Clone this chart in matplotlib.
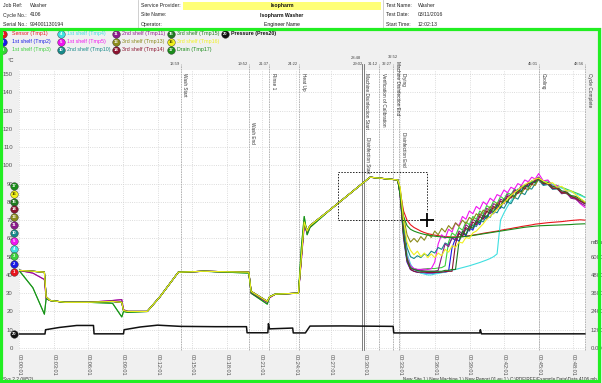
import matplotlib
matplotlib.use('Agg')
import matplotlib.pyplot as plt
from matplotlib.patches import Rectangle

plt.rcParams['font.family'] = ['Liberation Sans', 'DejaVu Sans']

W, H = 602, 383

# ---- header info ----
header_left = [('Job Ref:', 'Washer'), ('Cycle No.:', '4106'), ('Serial No.:', '994001130194')]
header_mid = [('Service Provider:', 'Isopharm'), ('Site Name:', 'Isopharm Washer'), ('Operator:', 'Engineer Name')]
header_right = [('Test Name:', 'Washer'), ('Test Date:', '03/11/2016'), ('Start Time:', '12:02:13')]

# ---- channels ----
ch_ids = [1, 2, 3, 4, 5, 10, 11, 13, 14, 15, 16, 17]
ch_names = ['Sensor (Tmp1)', '1st shelf (Tmp2)', '1st shelf (Tmp3)', '1st shelf (Tmp4)',
            '1st shelf (Tmp5)', '2nd shelf (Tmp10)', '2nd shelf (Tmp11)', '3rd shelf (Tmp13)',
            '3rd shelf (Tmp14)', '3rd shelf (Tmp15)', '3rd shelf (Tmp16)', 'Drain (Tmp17)']
ch_colors = ['#e8141c', '#1a1ae6', '#3ccf3c', '#3fdfe0', '#f014f0', '#178a8a', '#8b1a8b',
             '#8a8a1a', '#8b1430', '#1f7a1f', '#f0f01e', '#1a8c1a']
ch_early = ['main', 'main', 'dip', 'main', 'lag', 'main', 'lag', 'main', 'main', 'main', 'main', 'dip']

# first part of the cycle (minutes, degC) - three shapes shared by the probes
early_t = [0.0, 1.2, 2.2, 2.35, 2.7, 4.0, 6.0, 8.1, 8.9, 9.05, 9.4, 11.1, 12.2, 13.8, 16.0,
           19.9, 20.1, 21.5, 21.7, 22.2, 24.2, 24.45, 24.7, 24.95, 25.2, 27.0, 30.4, 32.8]
early_main = [42.5, 42, 41.5, 28, 26, 25, 25, 25.5, 25, 20.5, 20, 20, 28, 41.5, 42,
              41.5, 31, 25.5, 28, 29.5, 30, 50, 69, 64, 67, 76, 93.5, 92]
early_lag = [42.5, 41, 37.5, 27, 26, 25, 25, 26, 26.5, 21, 20, 20, 28, 41.5, 42,
             41.5, 30, 25, 27.5, 29.5, 30, 48, 67, 63, 66.5, 76, 93.5, 92]
early_dip = [42.5, 33, 18.5, 27, 26, 25, 25, 24.5, 17, 20, 19.5, 20, 28, 41.5, 42,
             41, 30, 24, 28, 29.5, 30, 55, 72, 62, 66, 76, 93.5, 92]
early = {'main': early_main, 'lag': early_lag, 'dip': early_dip}

# drying / cooling part
tail_t = [33.0, 33.3, 33.6, 33.9, 34.2, 34.5, 34.8, 35.1, 35.4, 35.7,
          36.0, 36.3, 36.6, 36.9, 37.2, 37.5, 37.8, 38.1, 38.4, 38.7,
          39.0, 39.3, 39.6, 39.9, 40.2, 40.5, 40.8, 41.1, 41.4, 41.7,
          42.0, 42.3, 42.6, 42.9, 43.2, 43.5, 43.8, 44.1, 44.4, 44.7,
          45.0, 45.4, 45.8, 46.2, 46.6, 47.0, 47.4, 47.8, 48.2, 48.6, 49.0]
tails = {
    1: [86, 75, 70, 67.5, 66, 65, 64, 63.2, 62.6, 62.2,
        61.8, 61.5, 61.2, 61, 60.9, 60.8, 60.8, 60.9, 61, 61.2,
        61.5, 61.8, 62.1, 62.4, 62.8, 63.1, 63.4, 63.7, 64, 64.4,
        64.8, 65.1, 65.4, 65.8, 66.1, 66.5, 66.8, 67.1, 67.4, 67.8,
        68, 68.3, 68.6, 68.8, 69, 69.2, 69.5, 69.8, 70, 70.2, 70],
    2: [84, 60, 47, 43, 42, 41.5, 41.2, 41, 41, 41,
        41, 41.2, 41.5, 41.5, 42, 55, 60, 58.5, 63, 61.5,
        66, 64.5, 69, 67.5, 72, 70.5, 75, 73.5, 78, 76.5,
        81, 79.5, 84, 82.5, 87, 86, 89.5, 88.5, 91.5, 91,
        93, 89.5, 90, 87, 87.5, 84.5, 85, 82.5, 82, 80.5, 79],
    3: [85, 62, 48, 44, 43.5, 43, 43, 43.2, 43.5, 43.5,
        43.5, 43.8, 44, 45, 58, 63, 61.5, 66, 64.5, 69,
        67.5, 72, 70.5, 75, 73.5, 78, 76.5, 80.5, 79, 83,
        81.5, 85, 84, 87, 86, 89, 88, 90.5, 90, 92,
        93.5, 91, 91.5, 89.5, 89, 88, 87, 86, 85, 84, 82.5],
    4: [86, 66, 52, 46, 43, 42, 41, 40.5, 40, 40,
        40.5, 40.8, 41.2, 41.6, 42, 42.5, 43, 43.5, 44, 44.5,
        45, 45.6, 46.2, 46.8, 47.5, 48.2, 49, 50, 51.5, 70,
        74, 77.5, 80.5, 83, 85, 87, 88.5, 90, 91, 92,
        92.5, 91, 90.5, 89.5, 88.5, 87.5, 86.5, 85.5, 84.5, 83.5, 82.5],
    5: [85, 65, 50, 45, 43.5, 43, 43, 43.2, 43, 43.4,
        47, 57, 62, 60, 65, 63.5, 68.5, 67, 72, 70.5,
        75, 73.5, 77.5, 76, 80, 78.5, 82, 80.5, 84, 83,
        86.5, 85, 88, 87, 90, 89, 92, 91, 93.5, 92.5,
        95.5, 91.5, 92, 88.5, 89, 85.5, 86, 82.5, 82, 79, 77],
    10: [87, 68, 55, 50, 49, 50.5, 49.5, 51.5, 50.5, 53,
         52, 55, 54, 57.5, 56.5, 60, 59, 62.5, 61.5, 65,
         64, 67.5, 66.5, 70, 69, 72.5, 71.5, 75, 74, 77.5,
         76.5, 80, 79, 82.5, 81.5, 85, 84, 87.5, 87, 90,
         92, 89, 89.5, 87, 87, 85, 84.5, 83, 82, 80.5, 79.5],
    11: [85, 62, 48, 43.5, 43, 42.5, 42.5, 42.2, 42, 42,
         42, 42.5, 50, 57, 55.5, 60.5, 59, 64, 62.5, 67.5,
         66, 70.5, 69, 73.5, 72, 76.5, 75, 79, 78, 81.5,
         80.5, 84, 83, 86.5, 85.5, 88.5, 88, 90.5, 90, 92,
         93.5, 90, 90.5, 87.5, 87.5, 84.5, 85, 82, 81.5, 79.5, 78],
    13: [88, 72, 62, 58, 60, 58, 61, 59, 62.5, 60.5,
         64, 62, 65.5, 63.5, 67, 65, 68.5, 66.5, 70, 68,
         71.5, 70, 73.5, 72, 75.5, 74, 77.5, 76, 79.5, 78,
         81.5, 80, 83.5, 82, 85.5, 84.5, 87.5, 86.5, 89.5, 89,
         92.5, 90, 90, 87.5, 87.5, 85, 85, 83, 82.5, 80.5, 79.5],
    14: [84, 62, 48, 43, 42, 41.5, 41.5, 41.5, 41.3, 41.3,
         41.3, 41.5, 41.5, 41.8, 42, 42, 57, 63, 61, 66,
         64.5, 69, 67.5, 72, 70.5, 75, 73.5, 77.5, 76, 80.5,
         79, 83, 82, 85.5, 84.5, 88, 87, 90, 89.5, 91.5,
         92.5, 90, 90, 87.5, 87.5, 85, 85, 83, 82, 80.5, 79],
    15: [85, 63, 49, 44, 43, 42.5, 42, 42, 42, 42,
         42, 42, 42, 42.5, 42.5, 43, 43, 58, 64, 62,
         67, 65.5, 70, 68.5, 73, 71.5, 76, 74.5, 78.5, 77,
         81.5, 80, 84, 83, 86.5, 85.5, 89, 88, 91, 90.5,
         93, 90.5, 90.5, 88.5, 88, 86, 85.5, 83.5, 83, 81.5, 80],
    16: [88, 70, 58, 53.5, 51, 53, 50, 52, 49.5, 51.5,
         49.5, 52, 50.5, 54, 52.5, 56, 55, 58, 57.5, 60.5,
         60, 63, 64, 66, 68, 70.5, 72, 74, 76, 78,
         79.5, 81.5, 83.5, 85, 86.5, 88, 89.5, 90.5, 91.5, 92.5,
         93, 91.5, 90, 90.5, 88, 88.5, 86, 86, 84, 82, 80],
    17: [84, 72, 67, 65, 64, 63.3, 62.7, 62.2, 61.8, 61.5,
         61.2, 61, 60.8, 60.6, 60.5, 60.5, 60.6, 60.7, 60.9, 61.1,
         61.3, 61.6, 61.9, 62.2, 62.5, 62.8, 63.1, 63.4, 63.7, 64,
         64.3, 64.6, 64.9, 65.2, 65.5, 65.8, 66.1, 66.3, 66.5, 66.7,
         66.9, 67, 67.1, 67.2, 67.3, 67.4, 67.5, 67.6, 67.8, 67.9, 68],
}

# pressure channel 20 (mBar)
p_t = [0, 2.25, 2.3, 3.5, 5.0, 6.45, 6.5, 9.05, 9.1, 10.5, 12.0, 14.0, 17.0, 19.7, 19.75,
       21.55, 21.6, 21.7, 21.8, 23.7, 23.75, 24.8, 25.2, 28.0, 32.4, 32.45, 39.9, 39.95, 40.05, 49.0]
p_v = [920, 920, 1200, 1350, 1480, 1480, 930, 930, 1200, 1380, 1500, 1420, 1400, 1400, 1000,
       1000, 1600, 1250, 1260, 1310, 990, 990, 1440, 1450, 1420, 990, 990, 1200, 930, 930]

# cycle events (minutes on the axis)
ev_t = [14.0, 19.89, 21.65, 24.24, 29.7, 29.85, 31.17, 32.38, 32.9, 45.02, 49.0]
ev_name = ['Wash Start', 'Wash End', 'Rinse 1', 'Heat Up', 'Machine Disinfection Start',
           'Disinfection Start', 'Verification of Calibration', 'Machine Disinfection End',
           'Drying', 'Cooling', 'Cycle Complete']
ev_clock = ['13:59', '19:52', '21:37', '24:22', '28:48', '29:02', '31:12', '32:27', '32:52', '45:01', '48:56']
ev_label_top = [150.5, 123.7, 150.5, 150.5, 150.5, 115.5, 150.5, 157.0, 150.5, 150.5, 150.5]
ev_second = {8: ('Disinfection End', 118.2)}

# channel tags at the left edge of the plot
tag_ids = [17, 16, 15, 14, 13, 11, 10, 5, 4, 3, 2, 1, 20]
tag_vals = [88.7, 84.4, 80.1, 75.9, 71.6, 67.3, 63.0, 58.7, 54.4, 50.2, 45.9, 41.6, 7.7]

x_tick_min = [0, 3, 6, 9, 12, 15, 18, 21, 24, 27, 30, 33, 36, 39, 42, 45, 48]
p_ticks = [0, 1200, 2400, 3600, 4800, 6000]

color_of = dict(zip(ch_ids, ch_colors))
color_of[20] = '#111111'

fig = plt.figure(figsize=(W / 100, H / 100), dpi=100)

# background layer in pixel coordinates
bg = fig.add_axes([0, 0, 1, 1], zorder=-1)
bg.set_xlim(0, W)
bg.set_ylim(H, 0)
bg.axis('off')
bg.add_patch(Rectangle((0, 0), W, H, facecolor='#f0f0f0', edgecolor='none'))
bg.add_patch(Rectangle((0, 0), W, 28, facecolor='white', edgecolor='none'))
bg.add_patch(Rectangle((183, 1.5), 198, 8.5, facecolor='#ffff77', edgecolor='none'))
for sx in [138, 383]:
    bg.plot([sx, sx], [0, 28], color='#c8c8c8', lw=0.6)

rows_y = [5.7, 15, 24.3]
hs = 3.7
for (lab, val), y in zip(header_left, rows_y):
    bg.text(3, y, lab, fontsize=hs, va='center', color='#222222')
    bg.text(30, y, val, fontsize=hs, va='center', color='#222222')
for i, ((lab, val), y) in enumerate(zip(header_mid, rows_y)):
    bg.text(141, y, lab, fontsize=hs, va='center', color='#222222')
    bg.text(282, y, val, fontsize=hs, va='center', ha='center', color='#111111',
            fontweight='bold' if i < 2 else 'normal')
for (lab, val), y in zip(header_right, rows_y):
    bg.text(386, y, lab, fontsize=hs, va='center', color='#222222')
    bg.text(418, y, val, fontsize=hs, va='center', color='#222222')

# legend rows
leg_cols = [[1, 2, 3], [4, 5, 10], [11, 13, 14], [15, 16, 17], [20]]
leg_x = [3, 61, 116, 171, 225]
leg_tx = [12, 67, 122, 177, 231]
leg_y = [33.7, 42, 49.7]
name_of = dict(zip(ch_ids, ch_names))
name_of[20] = 'Pressure (Pres20)'
for cx, tx, col in zip(leg_x, leg_tx, leg_cols):
    for cid, y in zip(col, leg_y):
        c = color_of[cid]
        bg.scatter([cx], [y], s=30, color=c, edgecolors='#333333', linewidths=0.3, zorder=3)
        bg.text(cx, y, str(cid), fontsize=3.0, color='#555500' if cid == 16 else 'white',
                ha='center', va='center', fontweight='bold', zorder=4)
        bg.text(tx, y, name_of[cid], fontsize=3.8, color=c, va='center',
                fontweight='bold' if cid == 20 else 'normal')

bg.text(3, 379.5, 'Sys 2.2 (W52)', fontsize=3.4, color='#333333', va='center')
bg.text(597, 379.5, 'New Site 1 \\ New Machine 1 \\ New Report 01.eu 1 \\ C:\\PDF\\REF\\Example Data\\Data 4106.mb',
        fontsize=3.3, color='#333333', va='center', ha='right')
bg.text(8, 61, '\u00b0C', fontsize=4.2, color='#333333', va='center')
bg.text(591, 243, 'mBar', fontsize=4.0, color='#444444', va='center')

# main plot
x_left, x_right, y_top, y_bot = 19, 586, 70, 350
ax = fig.add_axes([x_left / W, 1 - y_bot / H, (x_right - x_left) / W, (y_bot - y_top) / H])
ax.set_facecolor('white')
ax.set_xlim(0, 49.1)
ax.set_ylim(-1.1, 152.2)
for s in ax.spines.values():
    s.set_visible(False)
ax.set_yticks(list(range(0, 151, 10)))
ax.set_xticks([m + 1 / 60 for m in x_tick_min])
ax.set_xticklabels(['00:%02d:01' % m for m in x_tick_min], rotation=-90)
ax.tick_params(length=0, labelsize=4.3, colors='#505050')
ax.tick_params(axis='x', labelsize=4.0, pad=2.8)
ax.tick_params(axis='y', pad=4.3)
ax.grid(True, color='#d0d0d0', linestyle=':', linewidth=0.6)
ax.set_axisbelow(True)

# event markers
for i, (t, name, clk, top) in enumerate(zip(ev_t, ev_name, ev_clock, ev_label_top)):
    dark = i in (4, 5)
    ax.plot([t, t], [-1.1, 155.4], color='#6a6a6a' if dark else '#a8a8a8', lw=0.6,
            ls='-' if dark else (0, (2, 1)), clip_on=False, zorder=2)
    clk_y = 155.4
    if i == 4:
        clk_y = 158.8
    if i == 8:
        clk_y = 159.5
    ax.text(t - 0.05, clk_y, clk, fontsize=3.0, color='#444444', ha='right', va='center', clip_on=False)
    ax.text(t + 0.15, top, name, rotation=-90, fontsize=3.4, color='#333333', ha='left', va='top',
            clip_on=False)
    if i in ev_second:
        nm, yy = ev_second[i]
        ax.text(t + 0.15, yy, nm, rotation=-90, fontsize=3.4, color='#333333', ha='left', va='top')

# temperature traces
draw_order = [1, 2, 3, 4, 5, 10, 11, 13, 14, 15, 17, 16]
for cid in draw_order:
    k = ch_ids.index(cid)
    tt = early_t + tail_t
    vv = early[ch_early[k]] + tails[cid]
    ax.plot(tt, vv, color=ch_colors[k], lw=0.8, zorder=3)

# pressure on the right scale
ax2 = ax.twinx()
ax2.set_ylim(-1.1 * 120, 152.2 * 120)
for s in ax2.spines.values():
    s.set_visible(False)
ax2.set_yticks(p_ticks)
ax2.set_yticklabels(['%.2f' % p for p in p_ticks])
ax2.tick_params(length=0, labelsize=4.3, colors='#505050', pad=3.6)
ax2.plot(p_t, p_v, color='#111111', lw=1.1, zorder=3)

# zoom box and cursor
ax.add_patch(Rectangle((27.6, 70.1), 7.7, 26.2, fill=False, ls=(0, (1.5, 1.5)), lw=0.7,
                       edgecolor='#222222', zorder=4))
ax.plot([35.3], [70.1], marker='+', ms=11, mew=3, color='white', zorder=5)
ax.plot([35.3], [70.1], marker='+', ms=10, mew=1.3, color='black', zorder=6)

# channel tags
for cid, v in zip(tag_ids, tag_vals):
    c = color_of[cid]
    ax.scatter([-0.43], [v], s=30, color=c, edgecolors='#333333', linewidths=0.3,
               clip_on=False, zorder=7)
    ax.text(-0.43, v, str(cid), fontsize=3.0, color='#555500' if cid == 16 else 'white',
            ha='center', va='center', fontweight='bold', zorder=8, clip_on=False)

# green frame on top
fr = fig.add_axes([0, 0, 1, 1], zorder=20)
fr.set_xlim(0, W)
fr.set_ylim(H, 0)
fr.axis('off')
fr.patch.set_alpha(0)
fr.add_patch(Rectangle((1.4, 29.4), 598, 351.4, fill=False, edgecolor='#22ee22', lw=2.3))

fig.savefig('out.png', dpi=100, facecolor='#f0f0f0')
